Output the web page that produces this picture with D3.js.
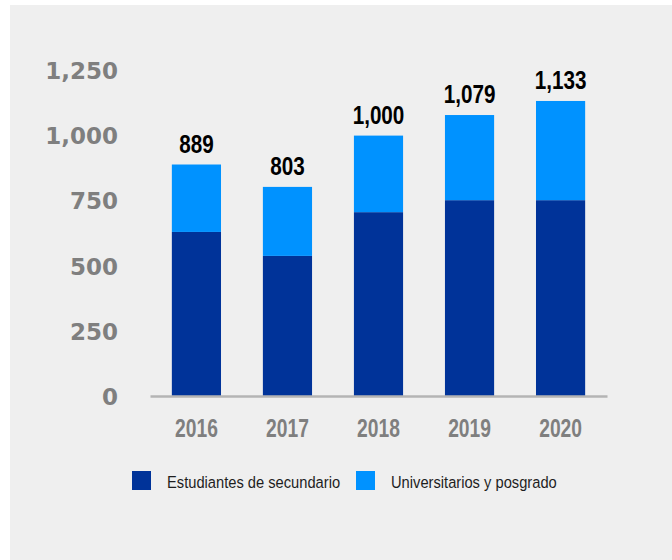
<!DOCTYPE html>
<html>
<head>
<meta charset="utf-8">
<script src="https://cdn.jsdelivr.net/npm/d3@7"></script>
<style>
  html, body { margin: 0; padding: 0; background: #ffffff; }
  svg { display: block; }
</style>
</head>
<body>
<svg id="chart" width="672" height="560"></svg>
<script>
const years = ["2016", "2017", "2018", "2019", "2020"];
const secundario = [630, 538, 706, 752, 752];
const universitarios = [259, 265, 294, 327, 381];
const totals = [889, 803, 1000, 1079, 1133];
const totalLabels = ["889", "803", "1,000", "1,079", "1,133"];
const yTicks = [0, 250, 500, 750, 1000, 1250];
const seriesNames = ["Estudiantes de secundario", "Universitarios y posgrado"];
const seriesColors = ["#003399", "#0092ff"];

const sans = "'Liberation Sans', Arial, sans-serif";

const svg = d3.select("#chart");
svg.append("rect").attr("x", 10).attr("y", 5).attr("width", 662).attr("height", 555).attr("fill", "#efefef");

const x = d3.scaleBand().domain(years).range([150, 607]).paddingInner(0.46).paddingOuter(0.24);
const y = d3.scaleLinear().domain([0, 1250]).range([396, 70.5]);

const rows = years.map((yr, i) => ({ year: yr, sec: secundario[i], uni: universitarios[i], total: totals[i], label: totalLabels[i] }));
const stack = d3.stack().keys(["sec", "uni"])(rows);

// y axis labels
const yAxis = d3.axisLeft(y).tickValues(yTicks).tickSize(0).tickPadding(0).tickFormat(d3.format(","));
const gy = svg.append("g").attr("transform", "translate(118,0)").call(yAxis);
gy.select(".domain").remove();
gy.selectAll("text")
  .attr("font-family", "'DejaVu Sans', Verdana, sans-serif")
  .attr("font-weight", "bold")
  .attr("font-size", 23)
  .attr("fill", "#7f7f7f")
  .attr("dy", "0.36em");

// bars
svg.append("g").selectAll("g").data(stack).join("g")
  .attr("fill", (d, i) => seriesColors[i])
  .selectAll("rect").data(d => d).join("rect")
  .attr("x", d => x(d.data.year))
  .attr("width", x.bandwidth())
  .attr("y", d => y(d[1]))
  .attr("height", d => y(d[0]) - y(d[1]));

// x axis
const xAxis = d3.axisBottom(x).tickSize(0).tickPadding(0);
const gx = svg.append("g").attr("transform", "translate(0,396)").call(xAxis);
gx.select(".domain").attr("stroke", "#b4b4b4").attr("stroke-width", 2.5);
gx.selectAll("text")
  .attr("font-family", sans)
  .attr("font-weight", "bold")
  .attr("font-size", 25)
  .attr("fill", "#7f7f7f")
  .attr("dy", 0)
  .attr("y", 0)
  .attr("transform", "translate(0,40.5) scale(0.77,1)");

// value labels
svg.append("g").selectAll("text").data(rows).join("text")
  .attr("transform", d => `translate(${x(d.year) + x.bandwidth() / 2},${y(d.total) - 12}) scale(0.78,1)`)
  .attr("text-anchor", "middle")
  .attr("font-family", sans)
  .attr("font-weight", "bold")
  .attr("font-size", 26.5)
  .attr("fill", "#000")
  .text(d => d.label);

// legend
const legendX = [132, 356];
const lg = svg.append("g").selectAll("g").data(seriesNames).join("g")
  .attr("transform", (d, i) => `translate(${legendX[i]},471)`);
lg.append("rect").attr("width", 19).attr("height", 19).attr("fill", (d, i) => seriesColors[i]);
lg.append("text")
  .attr("transform", "translate(35,16.5) scale(0.865,1)")
  .attr("font-family", sans)
  .attr("font-size", 17)
  .attr("fill", "#1e1e1e")
  .text(d => d);
</script>
</body>
</html>
